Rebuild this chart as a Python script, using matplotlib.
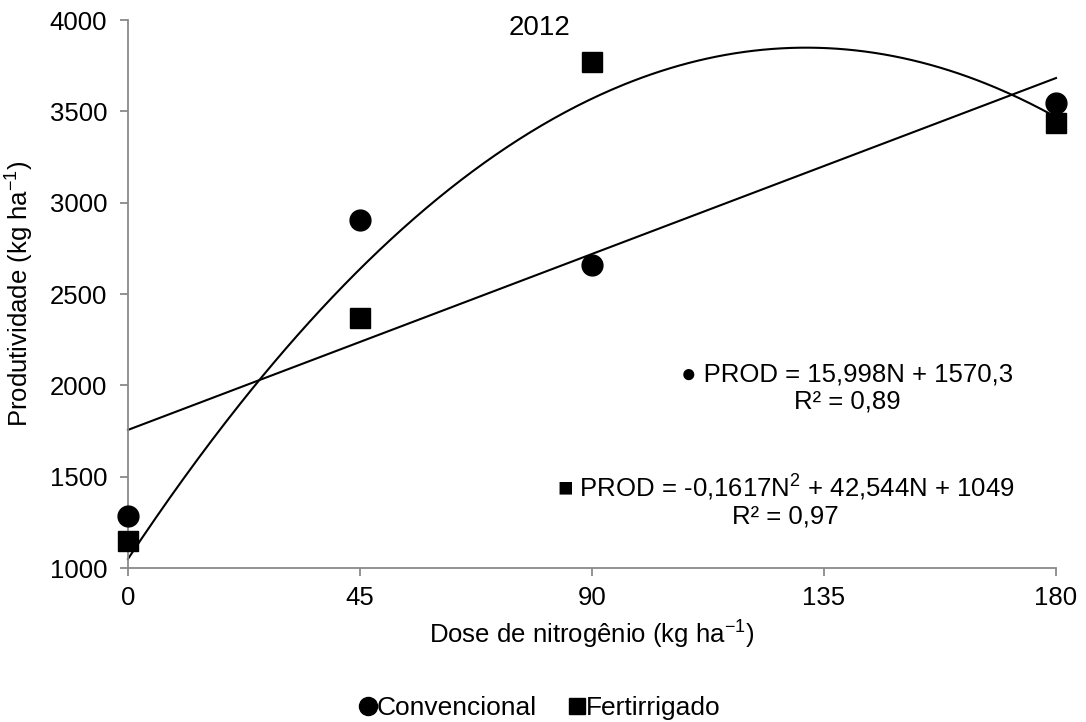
import numpy as np
import matplotlib
matplotlib.use("Agg")
import matplotlib.pyplot as plt
from matplotlib.lines import Line2D

plt.rcParams['font.family'] = ['Liberation Sans', 'DejaVu Sans']
plt.rcParams['mathtext.fontset'] = 'custom'
plt.rcParams['mathtext.rm'] = 'Liberation Sans'
plt.rcParams['mathtext.it'] = 'Liberation Sans'
plt.rcParams['mathtext.default'] = 'regular'

# Data
doses = [0, 45, 90, 180]
convencional = [1285, 2905, 2660, 3545]
fertirrigado = [1150, 2370, 3770, 3435]
x_ticks = [0, 45, 90, 135, 180]
y_ticks = [1000, 1500, 2000, 2500, 3000, 3500, 4000]
eq_conv = "\u25CF PROD = 15,998N + 1570,3"
r2_conv = "R\u00B2 = 0,89"
eq_fert = "\u25A0 PROD = -0,1617N$^{2}$ + 42,544N + 1049"
r2_fert = "R\u00B2 = 0,97"
title_txt = "2012"

FS = 18.5
fig = plt.figure(figsize=(10.86, 7.22), dpi=100)
ax = fig.add_axes([128/1086, 1-568/722, (1056-128)/1086, (568-20)/722])

spine_c = '#898989'
for s in ['top', 'right']:
    ax.spines[s].set_visible(False)
for s in ['left', 'bottom']:
    ax.spines[s].set_color(spine_c)
    ax.spines[s].set_linewidth(1.3)
ax.tick_params(axis='both', colors=spine_c, width=1.3, length=6, labelsize=FS, labelcolor='black', direction='out')
ax.tick_params(axis='x', pad=7)
ax.tick_params(axis='y', pad=9)

ax.set_xlim(0, 180)
ax.set_ylim(1000, 4000)
ax.set_xticks(x_ticks)
ax.set_yticks(y_ticks)

# Trend lines from fits
xs = np.linspace(0, 180, 400)
p1 = np.polyfit(doses, convencional, 1)
p2 = np.polyfit(doses, fertirrigado, 2)
ax.plot(xs, np.polyval(p1, xs), color='black', lw=1.5, zorder=2, clip_on=False)
ax.plot(xs, np.polyval(p2, xs), color='black', lw=1.5, zorder=2, clip_on=False)

ax.plot(doses, convencional, 'o', color='black', markersize=15, zorder=3, clip_on=False)
ax.plot(doses, fertirrigado, 's', color='black', markersize=15, zorder=3, clip_on=False)

ax.set_xlabel("Dose de nitrogênio (kg ha$^{-1}$)", fontsize=FS, labelpad=6)
ax.set_ylabel("Produtividade (kg ha$^{-1}$)", fontsize=FS, labelpad=10)

ax.text(79.9, 3956, title_txt, fontsize=20, ha='center', va='center')
ax.text(139.5, 2060, eq_conv, fontsize=FS, ha='center', va='center')
ax.text(139.5, 1910, r2_conv, fontsize=FS, ha='center', va='center')
ax.text(127.6, 1440, eq_fert, fontsize=FS, ha='center', va='center')
ax.text(127.4, 1280, r2_fert, fontsize=FS, ha='center', va='center')

handles = [Line2D([], [], marker='o', color='black', ls='none', markersize=13),
           Line2D([], [], marker='s', color='black', ls='none', markersize=12)]
fig.legend(handles, ['Convencional', 'Fertirrigado'], loc='center', bbox_to_anchor=(540/1086, 1-708/722),
           ncol=2, frameon=False, fontsize=19, handlelength=0.6, handletextpad=0.05, columnspacing=1.2)

fig.savefig('out.png', dpi=100)
